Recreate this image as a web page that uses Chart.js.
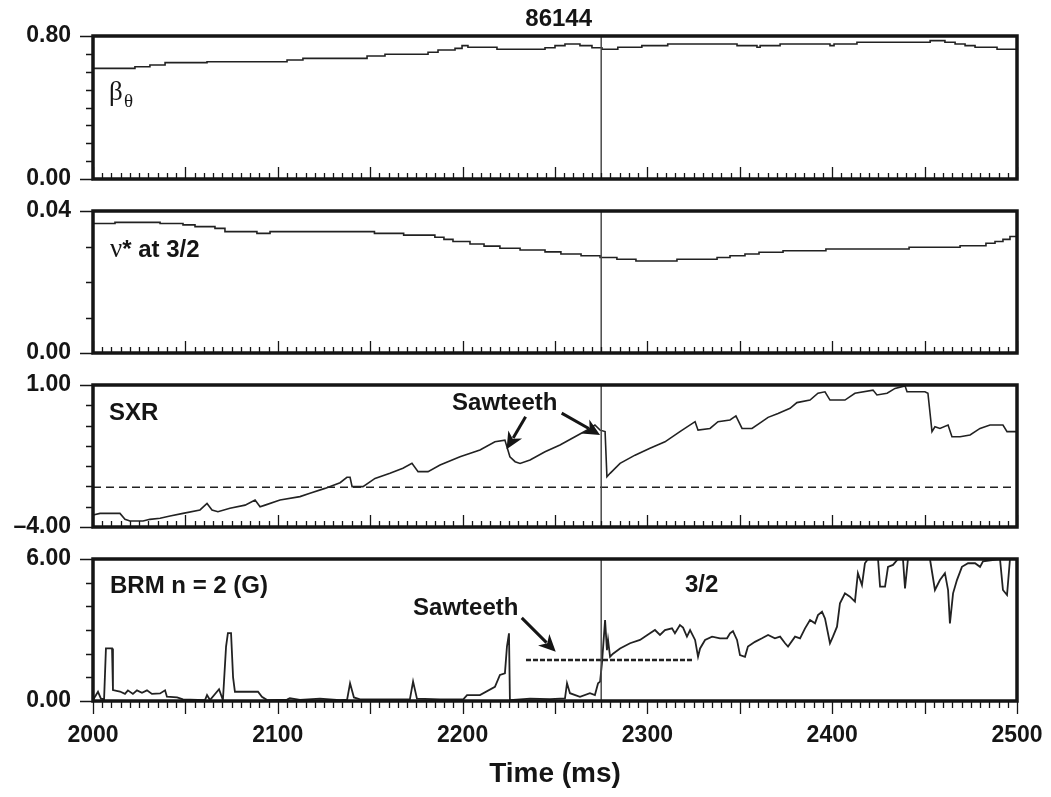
<!DOCTYPE html>
<html>
<head>
<meta charset="utf-8">
<script src="https://cdn.jsdelivr.net/npm/chart.js@4.4.0/dist/chart.umd.min.js"></script>
<style>
  body { margin: 0; background: #fff; }
  #wrap { position: relative; width: 1051px; height: 797px; }
  #wrap canvas { position: absolute; left: 0; top: 0; }
</style>
</head>
<body>
<div id="wrap">
  <canvas id="c1" width="1051" height="797"></canvas>
  <canvas id="c2" width="1051" height="797"></canvas>
  <canvas id="c3" width="1051" height="797"></canvas>
  <canvas id="c4" width="1051" height="797"></canvas>
</div>
<script>
// shot 86144, time in ms
const betaTime = [2000, 2022.7, 2030.8, 2039, 2061.7, 2105, 2113.6, 2148.3, 2158, 2181.3, 2186.7, 2195.9, 2199.7, 2202.9, 2218.6, 2244.6, 2250, 2255.4, 2263.5, 2270, 2275.4, 2284, 2297, 2311, 2348.5, 2359.3, 2361, 2371.8, 2398.8, 2401, 2413.4, 2453, 2461, 2466.5, 2471.9, 2477.3, 2489.2, 2500];
const betaVal = [0.619, 0.628, 0.638, 0.651, 0.656, 0.666, 0.675, 0.688, 0.698, 0.709, 0.722, 0.731, 0.746, 0.737, 0.726, 0.734, 0.746, 0.755, 0.746, 0.734, 0.726, 0.737, 0.746, 0.755, 0.746, 0.737, 0.746, 0.755, 0.746, 0.755, 0.765, 0.774, 0.765, 0.755, 0.746, 0.737, 0.726, 0.726];

const nuTime = [2000, 2011.9, 2036.3, 2048.7, 2055.2, 2066, 2071.4, 2088.7, 2095.8, 2152.3, 2168.1, 2185, 2189.9, 2194.8, 2204, 2211.6, 2220.2, 2231.1, 2244.6, 2253.2, 2264.1, 2274.4, 2283.5, 2293.8, 2316, 2337.7, 2344.7, 2352.8, 2360.4, 2373.4, 2396.6, 2441.6, 2469.2, 2483.2, 2488.1, 2492.4, 2496.2, 2500];
const nuVal = [0.0365, 0.0368, 0.0365, 0.0361, 0.0356, 0.0351, 0.0342, 0.0337, 0.0342, 0.0337, 0.0332, 0.0326, 0.0320, 0.0314, 0.0307, 0.0301, 0.0295, 0.0290, 0.0285, 0.0279, 0.0274, 0.0269, 0.0264, 0.0259, 0.0264, 0.0269, 0.0274, 0.0279, 0.0284, 0.0288, 0.0293, 0.0298, 0.0302, 0.0309, 0.0314, 0.0320, 0.0328, 0.0328];

const sxrTime = [2000, 2003.8, 2014.6, 2017.3, 2020.0, 2027.1, 2030.8, 2036.3, 2041.7, 2048.7,
  2057.9, 2061.7, 2064.4, 2067.6, 2074.1, 2082.3, 2087.7, 2090.4, 2093.1, 2101.2,
  2112.0, 2117.4, 2125.5, 2133.7, 2137.4, 2139.1, 2140.2, 2146.1, 2152.6, 2160.7,
  2167.7, 2172.6, 2175.9, 2181.3, 2187.8, 2198.6, 2209.4, 2217.5, 2222.9, 2225.6,
  2228.4, 2231.1, 2236.5, 2244.6, 2252.7, 2260.8, 2268.9, 2271.6, 2274.4, 2277.1,
  2278.1, 2279.8, 2285.2, 2293.3, 2301.4, 2309.5, 2317.6, 2325.8, 2327.4, 2333.9,
  2338.2, 2344.7, 2347.9, 2351.2, 2356.6, 2362.0, 2365.3, 2370.7, 2377.2, 2380.9,
  2388.0, 2392.3, 2396.1, 2398.8, 2406.9, 2412.3, 2422.1, 2424.2, 2429.7, 2434.0,
  2439.4, 2440.5, 2450.2, 2451.8, 2454.0, 2455.6, 2458.3, 2462.7, 2464.8, 2469.2,
  2474.6, 2480.0, 2485.4, 2492.4, 2494.6, 2500];
const sxrVal = [-3.58, -3.52, -3.52, -3.73, -3.79, -3.79, -3.73, -3.69, -3.61, -3.52,
  -3.40, -3.17, -3.40, -3.46, -3.34, -3.23, -3.05, -3.29, -3.23, -3.05,
  -2.93, -2.81, -2.64, -2.44, -2.25, -2.25, -2.58, -2.58, -2.29, -2.11,
  -1.93, -1.76, -2.05, -2.05, -1.82, -1.53, -1.29, -1.00, -0.94, -1.53,
  -1.70, -1.76, -1.64, -1.35, -1.11, -0.82, -0.53, -0.41, -0.59, -0.64,
  -2.23, -2.11, -1.76, -1.47, -1.23, -1.00, -0.64, -0.29, -0.59, -0.53,
  -0.29, -0.23, -0.09, -0.53, -0.53, -0.29, -0.14, 0.00, 0.18, 0.38,
  0.47, 0.71, 0.76, 0.47, 0.47, 0.71, 0.82, 0.65, 0.71, 0.88,
  0.97, 0.76, 0.76, 0.71, -0.64, -0.47, -0.53, -0.41, -0.82, -0.82,
  -0.76, -0.53, -0.41, -0.41, -0.64, -0.64];
const sxrRefTime = [2000, 2500];
const sxrRefVal = [-2.6, -2.6];

const brmTime = [2000, 2002.7, 2004.3, 2006.0, 2007.0, 2010.3, 2010.8, 2014.6, 2017.3, 2018.9,
  2021.6, 2023.8, 2026.5, 2029.2, 2031.9, 2036.3, 2039.0, 2040.0, 2045.5, 2048.7,
  2060.6, 2061.7, 2063.3, 2068.2, 2070.3, 2072.0, 2073.0, 2074.7, 2075.8, 2076.8,
  2089.3, 2091.4, 2094.2, 2105.0, 2106.5, 2112.0, 2122.8, 2133.7, 2137.5, 2139.1,
  2141.2, 2144.5, 2160.7, 2171.5, 2173.2, 2175.3, 2187.8, 2200.5, 2202.4, 2209.4,
  2217.5, 2220.2, 2222.9, 2224.0, 2225.1, 2225.6, 2236.5, 2247.3, 2255.4, 2256.5,
  2258.1, 2263.5, 2268.9, 2271.6, 2273.3, 2274.4, 2275.4, 2277.1, 2278.1, 2278.7,
  2279.8, 2281.4, 2285.2, 2290.6, 2296.0, 2301.4, 2304.1, 2306.8, 2309.5, 2313.3,
  2314.9, 2317.6, 2319.3, 2321.4, 2323.1, 2325.8, 2327.4, 2328.5, 2331.2, 2335.0,
  2339.3, 2343.1, 2344.7, 2346.3, 2348.5, 2350.1, 2352.8, 2354.4, 2358.2, 2362.0,
  2365.3, 2369.0, 2371.8, 2374.5, 2376.1, 2379.9, 2382.6, 2385.3, 2388.0, 2390.7,
  2392.3, 2394.5, 2396.1, 2398.8, 2400.4, 2402.6, 2404.2, 2406.9, 2409.6, 2412.3,
  2413.9, 2416.1, 2417.7, 2419.4, 2424.8, 2425.9, 2428.6, 2430.2, 2432.9, 2435.6,
  2438.3, 2439.4, 2441.0, 2452.9, 2455.6, 2458.3, 2461.0, 2462.7, 2463.7, 2465.4,
  2467.5, 2470.2, 2473.5, 2477.3, 2480.0, 2481.6, 2490.8, 2492.4, 2494.6, 2496.2,
  2500];
const brmVal = [0.04, 0.39, 0.10, 0.08, 2.22, 2.22, 0.46, 0.40, 0.30, 0.45,
  0.30, 0.45, 0.35, 0.45, 0.30, 0.32, 0.45, 0.18, 0.15, 0.07,
  0.04, 0.25, 0.04, 0.50, 0.04, 2.30, 2.87, 2.87, 1.00, 0.39,
  0.39, 0.18, 0.04, 0.06, 0.12, 0.05, 0.10, 0.04, 0.06, 0.75,
  0.15, 0.07, 0.07, 0.08, 0.82, 0.10, 0.07, 0.08, 0.25, 0.25,
  0.60, 1.10, 1.17, 2.30, 2.86, 0.04, 0.10, 0.08, 0.11, 0.75,
  0.33, 0.18, 0.33, 0.25, 0.75, 0.82, 1.59, 3.42, 2.15, 2.58,
  1.87, 2.00, 2.22, 2.44, 2.58, 2.86, 3.00, 2.79, 3.00, 3.07,
  2.86, 3.21, 3.10, 2.72, 3.00, 2.58, 1.87, 2.22, 2.58, 2.72,
  2.65, 2.65, 2.86, 2.95, 2.58, 1.94, 1.87, 2.30, 2.50, 2.65,
  2.79, 2.65, 2.72, 2.44, 2.30, 2.72, 2.65, 3.07, 3.42, 3.28,
  3.63, 3.77, 3.49, 2.44, 2.72, 3.14, 4.13, 4.55, 4.41, 4.20,
  5.40, 4.90, 5.82, 6.00, 6.00, 4.83, 4.83, 5.67, 5.75, 6.00,
  6.00, 4.76, 6.00, 6.00, 4.69, 5.11, 5.40, 4.69, 3.28, 4.55,
  5.11, 5.67, 5.82, 5.82, 5.67, 5.90, 6.00, 4.69, 4.48, 6.00,
  6.00];
// sawtooth level marked in the BRM panel
const sawLevelTime = [2234.3, 2324.7];
const sawLevelVal = [1.73, 1.73];

const betaTicks = [0, 0.8];
const nuTicks = [0, 0.04];
const sxrTicks = [-4, 1];
const brmTicks = [0, 6];
const timeTicks = [2000, 2100, 2200, 2300, 2400, 2500];
const markTime = 2275;

const H = 797;
const SANS = '"Liberation Sans", Arial, sans-serif';
const SERIF = '"Liberation Serif", "Times New Roman", serif';
const BOLD = 'bold 24px ' + SANS;
const INK = '#151515';

function pts(t, v) {
  return t.map((x, i) => ({ x: x, y: v[i] }));
}

function text(ctx, s, x, y, font, align) {
  ctx.font = font;
  ctx.textAlign = align || 'left';
  ctx.textBaseline = 'alphabetic';
  ctx.fillStyle = INK;
  ctx.fillText(s, x, y);
}

function arrow(ctx, x1, y1, x2, y2) {
  const ang = Math.atan2(y2 - y1, x2 - x1), len = 17, hw = 8;
  const bx = x2 - len * Math.cos(ang), by = y2 - len * Math.sin(ang);
  ctx.strokeStyle = INK;
  ctx.fillStyle = INK;
  ctx.lineWidth = 3;
  ctx.beginPath();
  ctx.moveTo(x1, y1);
  ctx.lineTo(bx + 4 * Math.cos(ang), by + 4 * Math.sin(ang));
  ctx.stroke();
  ctx.beginPath();
  ctx.moveTo(x2, y2);
  ctx.lineTo(bx + hw * Math.sin(ang), by - hw * Math.cos(ang));
  ctx.lineTo(bx + 5 * Math.cos(ang), by + 5 * Math.sin(ang));
  ctx.lineTo(bx - hw * Math.sin(ang), by + hw * Math.cos(ang));
  ctx.closePath();
  ctx.fill();
}

const panels = [
  {
    id: 'c1', top: 36, bottom: 179, ticks: betaTicks, div: 8,
    sets: [{ data: pts(betaTime, betaVal), stepped: true }],
    notes(ctx, a, x, y) {
      text(ctx, '86144', x.getPixelForValue(2252), a.top - 10, BOLD, 'center');
      text(ctx, 'β', a.left + 16, a.top + 64, '27px ' + SERIF);
      text(ctx, 'θ', a.left + 31, a.top + 71, '19px ' + SERIF);
    }
  },
  {
    id: 'c2', top: 211, bottom: 353, ticks: nuTicks, div: 4,
    sets: [{ data: pts(nuTime, nuVal), stepped: true }],
    notes(ctx, a) {
      text(ctx, 'ν', a.left + 17, a.top + 46, '27px ' + SERIF);
      ctx.font = '27px ' + SERIF;
      const w = ctx.measureText('ν').width;
      text(ctx, '* at 3/2', a.left + 17 + w, a.top + 46, BOLD);
    }
  },
  {
    id: 'c3', top: 385, bottom: 527, ticks: sxrTicks, div: 7,
    sets: [
      { data: pts(sxrTime, sxrVal) },
      { data: pts(sxrRefTime, sxrRefVal), borderDash: [8, 5], borderWidth: 1.3 }
    ],
    notes(ctx, a, x, y) {
      text(ctx, 'SXR', a.left + 16, a.top + 35, BOLD);
      text(ctx, 'Sawteeth', x.getPixelForValue(2194.3), y.getPixelForValue(0.12), BOLD);
      arrow(ctx, x.getPixelForValue(2234.1), y.getPixelForValue(-0.12), x.getPixelForValue(2223.8), y.getPixelForValue(-1.26));
      arrow(ctx, x.getPixelForValue(2253.6), y.getPixelForValue(0.01), x.getPixelForValue(2274.4), y.getPixelForValue(-0.76));
    }
  },
  {
    id: 'c4', top: 559, bottom: 701, ticks: brmTicks, div: 6,
    sets: [
      { data: pts(brmTime, brmVal), borderWidth: 1.8 },
      { data: pts(sawLevelTime, sawLevelVal), borderDash: [5, 2], borderWidth: 2.6 }
    ],
    notes(ctx, a, x, y) {
      text(ctx, 'BRM n = 2 (G)', a.left + 17, a.top + 34, BOLD);
      text(ctx, '3/2', a.left + 592, a.top + 33, BOLD);
      text(ctx, 'Sawteeth', x.getPixelForValue(2173.2), y.getPixelForValue(3.63), BOLD);
      arrow(ctx, x.getPixelForValue(2232), y.getPixelForValue(3.51), x.getPixelForValue(2250.4), y.getPixelForValue(2.08));
    }
  }
];

function makeDeco(p, last) {
  return {
    id: 'deco',
    afterDraw(chart) {
      const { ctx, chartArea: a, scales: { x, y } } = chart;
      ctx.save();
      // marker line at t = 2275
      const mx = x.getPixelForValue(markTime);
      ctx.strokeStyle = '#4a4a4a';
      ctx.lineWidth = 1.5;
      ctx.beginPath();
      ctx.moveTo(mx, a.top);
      ctx.lineTo(mx, a.bottom);
      ctx.stroke();

      // time ticks, every 5 ms, longer every 50
      ctx.strokeStyle = INK;
      ctx.lineWidth = 1.3;
      ctx.beginPath();
      for (let t = 2000; t <= 2500; t += 5) {
        const px = Math.round(x.getPixelForValue(t)) + 0.5;
        const major = t % 50 === 0;
        if (last) {
          ctx.moveTo(px, a.bottom);
          ctx.lineTo(px, a.bottom + (major ? 13 : 7));
        } else {
          ctx.moveTo(px, a.bottom);
          ctx.lineTo(px, a.bottom - (major ? 12 : 6));
        }
      }
      // value ticks outside the left edge
      const lo = p.ticks[0], hi = p.ticks[p.ticks.length - 1];
      for (let k = 0; k <= p.div; k++) {
        const py = Math.round(y.getPixelForValue(lo + (hi - lo) * k / p.div)) + 0.5;
        const len = (k === 0 || k === p.div) ? 13 : 7;
        ctx.moveTo(a.left - len, py);
        ctx.lineTo(a.left, py);
      }
      ctx.stroke();

      // frame
      ctx.strokeStyle = INK;
      ctx.lineWidth = 3.5;
      ctx.strokeRect(a.left, a.top, a.right - a.left, a.bottom - a.top);

      p.notes(ctx, a, x, y);
      ctx.restore();
    }
  };
}

panels.forEach((p, i) => {
  const last = i === panels.length - 1;
  const datasets = p.sets.map(s => Object.assign({
    borderColor: '#222',
    borderWidth: 1.6,
    pointRadius: 0,
    tension: 0,
    fill: false
  }, s));

  new Chart(document.getElementById(p.id), {
    type: 'line',
    data: { datasets: datasets },
    options: {
      responsive: false,
      animation: false,
      events: [],
      layout: { padding: { top: p.top, bottom: last ? 0 : H - p.bottom, left: 0, right: 34 } },
      plugins: { legend: { display: false }, tooltip: { enabled: false } },
      scales: {
        x: {
          type: 'linear',
          min: 2000,
          max: 2500,
          display: last,
          afterFit: s => {
            if (last) s.height = H - p.bottom;
            s.paddingLeft = 0;
            s.paddingRight = 0;
          },
          afterBuildTicks: s => { s.ticks = timeTicks.map(v => ({ value: v })); },
          grid: { display: false, drawTicks: false },
          border: { display: false },
          ticks: {
            padding: 21,
            color: INK,
            maxRotation: 0,
            font: { family: SANS, size: 23, weight: 'bold' },
            callback: v => String(v)
          },
          title: {
            display: true,
            text: 'Time (ms)',
            color: INK,
            font: { family: SANS, size: 28, weight: 'bold' },
            padding: { top: 0, bottom: 6 }
          }
        },
        y: {
          type: 'linear',
          min: p.ticks[0],
          max: p.ticks[p.ticks.length - 1],
          afterFit: s => {
            s.width = 93;
            s.paddingTop = 0;
            s.paddingBottom = 0;
          },
          afterBuildTicks: s => { s.ticks = p.ticks.map(v => ({ value: v })); },
          grid: { display: false, drawTicks: false },
          border: { display: false },
          ticks: {
            padding: 22,
            color: INK,
            font: { family: SANS, size: 23, weight: 'bold' },
            callback: v => (v < 0 ? '\u2013' + Math.abs(v).toFixed(2) : v.toFixed(2))
          }
        }
      }
    },
    plugins: [makeDeco(p, last)]
  });
});
</script>
</body>
</html>
